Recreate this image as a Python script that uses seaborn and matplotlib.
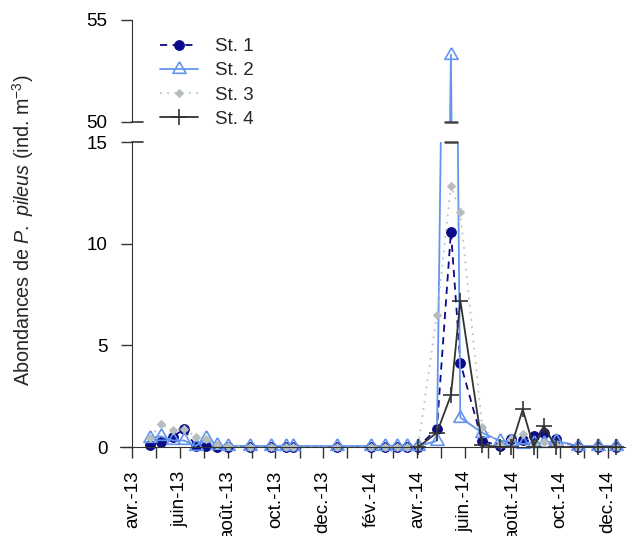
import numpy as np
import pandas as pd
import matplotlib
matplotlib.use("Agg")
import matplotlib.pyplot as plt
import matplotlib.dates as mdates
import seaborn as sns

# ---------------- data ----------------
dates = ["2013-04-24", "2013-05-07", "2013-05-23", "2013-06-06", "2013-06-21",
         "2013-07-04", "2013-07-18", "2013-08-01", "2013-08-30", "2013-09-25",
         "2013-10-15", "2013-10-24", "2013-12-19", "2014-01-31", "2014-02-19",
         "2014-03-06", "2014-03-19", "2014-04-02", "2014-04-26", "2014-05-14",
         "2014-05-26", "2014-06-23", "2014-07-16", "2014-07-30", "2014-08-14",
         "2014-08-28", "2014-09-10", "2014-09-25", "2014-10-24", "2014-11-19",
         "2014-12-11"]
st1 = [0.1, 0.25, 0.5, 0.9, 0.05, 0.05, 0, 0, 0, 0, 0, 0, 0, 0, 0, 0, 0, 0,
       0.9, 10.6, 4.15, 0.3, 0.05, 0.4, 0.33, 0.55, 0.68, 0.37, 0, 0, 0]
st2 = [0.43, 0.53, 0.32, 0.32, 0.05, 0.43, 0.1, 0.05, 0.05, 0.05, 0.05, 0.05,
       0.05, 0.05, 0.05, 0.05, 0.05, 0.05, 0.3, 53.3, 1.45, 0.7, 0.3, 0.3,
       0.15, 0.2, 0.2, 0.3, 0.05, 0.05, 0.05]
st3 = [0.45, 1.15, 0.83, 0.9, 0.5, 0.4, 0.1, 0.03, 0, 0, 0, 0, 0, 0, 0, 0, 0,
       0.05, 6.5, 12.85, 11.55, 1.0, 0.1, 0.4, 0.65, 0.15, 0.25, 0.1, 0, 0, 0]
st4 = [np.nan] * 17 + [0, 0.7, 2.55, 7.2, 0.08, 0, 0, 1.85, 0, 1.05, 0, 0, 0, 0]
stations = ["St. 1", "St. 2", "St. 3", "St. 4"]

tick_months = ["2013-04-01", "2013-06-01", "2013-08-01", "2013-10-01", "2013-12-01",
               "2014-02-01", "2014-04-01", "2014-06-01", "2014-08-01", "2014-10-01",
               "2014-12-01"]
tick_labels = ["avr.-13", "juin-13", "août.-13", "oct.-13", "dec.-13", "fév.-14",
               "avr.-14", "juin.-14", "août.-14", "oct.-14", "dec.-14"]

# ---------------- style ----------------
sns.set_style("ticks")
plt.rcParams["font.family"] = ["Liberation Sans", "DejaVu Sans"]
plt.rcParams["mathtext.fontset"] = "custom"
plt.rcParams["mathtext.rm"] = "Liberation Sans"
plt.rcParams["mathtext.it"] = "Liberation Sans:italic"
plt.rcParams["axes.edgecolor"] = "#333333"
plt.rcParams["xtick.color"] = "#333333"
plt.rcParams["ytick.color"] = "#333333"
plt.rcParams["xtick.labelcolor"] = "black"
plt.rcParams["ytick.labelcolor"] = "black"

FS = 13.5

tri = [(0, 1), (-0.866, -0.5), (0.866, -0.5), (0, 1)]
styles = {
    "St. 1": dict(color="#0B0B8A", marker="o", markersize=7, markerfacecolor="#0B0B8A",
                  markeredgecolor="#0B0B8A", linestyle=(0, (4, 3)), linewidth=1.3),
    "St. 2": dict(color="#6495ED", marker=tri, markersize=11, markerfacecolor="none",
                  markeredgecolor="#6495ED", markeredgewidth=1.2, linestyle="-", linewidth=1.3),
    "St. 3": dict(color="#BCC3C3", marker="D", markersize=4.5, markerfacecolor="#B5BDBD",
                  markeredgecolor="#B5BDBD", linestyle=(0, (1, 3)), linewidth=1.3),
    "St. 4": dict(color="#333333", marker="+", markersize=11, markerfacecolor="#333333",
                  markeredgecolor="#333333", markeredgewidth=1.2, linestyle="-", linewidth=1.3),
}

df = pd.DataFrame({"date": pd.to_datetime(dates), "St. 1": st1, "St. 2": st2,
                   "St. 3": st3, "St. 4": st4})

W, H = 632, 536
fig = plt.figure(figsize=(W / 100, H / 100), dpi=100)

x_left = pd.Timestamp("2013-03-16")
x_right = pd.Timestamp("2014-12-23")
ppu = 20.33  # pixels per y unit
lo_bottom_val = -0.6
y0_px = 447
lo_top_px = y0_px - 15 * ppu
lo_bot_px = y0_px - lo_bottom_val * ppu
ax_lo = fig.add_axes([120 / W, (H - lo_bot_px) / H, 505 / W, (lo_bot_px - lo_top_px) / H])
up_top_px = 20
up_bot_px = 122
ax_up = fig.add_axes([120 / W, (H - up_bot_px) / H, 505 / W, (up_bot_px - up_top_px) / H])

handles = {}
for ax in (ax_lo, ax_up):
    ax.patch.set_visible(False)
    for st in stations:
        sub = df[["date", st]].dropna()
        sns.lineplot(data=sub, x="date", y=st, ax=ax, legend=False, **styles[st])
        handles[st] = ax.get_lines()[-1]
    ax.set_xlim(x_left, x_right)
    ax.set_xlabel("")
    ax.set_ylabel("")
    for s in ("top", "right"):
        ax.spines[s].set_visible(False)
    ax.spines["left"].set_position(("data", mdates.date2num(pd.Timestamp("2013-04-01"))))
    ax.tick_params(axis="y", length=8, width=1.0, pad=10, labelsize=FS)

# lower axes
ax_lo.set_ylim(lo_bottom_val, 15)
ax_lo.spines["bottom"].set_position(("data", 0))
ax_lo.spines["left"].set_bounds(0, 15)
ax_lo.set_yticks([0, 5, 10, 15])
ax_lo.set_yticklabels(["0", "5", "10", "15"])
ax_lo.set_xticks(mdates.date2num(pd.to_datetime(tick_months)))
ax_lo.set_xticklabels(tick_labels, rotation=90, ha="center", va="top")
ax_lo.xaxis.set_minor_locator(mdates.MonthLocator(bymonth=[1, 3, 5, 7, 9, 11]))
ax_lo.tick_params(axis="x", which="both", length=8, width=1.0, pad=9, labelsize=FS)

# upper axes
ax_up.set_ylim(50, 55)
ax_up.spines["bottom"].set_visible(False)
ax_up.spines["left"].set_bounds(50, 55)
ax_up.set_yticks([50, 55])
ax_up.set_yticklabels(["50", "55"])
ax_up.set_xticks([])

# break marks on axis
a0 = pd.Timestamp("2013-04-01")
a1 = a0 + pd.Timedelta(days=13)
ax_lo.plot([a0, a1], [15, 15], color="#333333", lw=1.2, clip_on=False)
ax_up.plot([a0, a1], [50, 50], color="#333333", lw=1.2, clip_on=False)
# break marks on the St. 2 peak
pk = pd.Timestamp("2014-05-14")
b0, b1 = pk - pd.Timedelta(days=8), pk + pd.Timedelta(days=8)
ax_lo.plot([b0, b1], [15, 15], color="#444444", lw=1.8, clip_on=False)
ax_up.plot([b0, b1], [50, 50], color="#444444", lw=1.8, clip_on=False)

# y label
fig.text(23 / W, 1 - 230 / H, r"Abondances de $\mathit{P.\ pileus}$ (ind. m$^{-3}$)",
         rotation=90, ha="center", va="center", fontsize=14.2)

# legend (on the upper axes so it is drawn on top)
leg = ax_up.legend([handles[s] for s in stations], stations, loc="upper left",
                   bbox_to_anchor=(160 / W, 1 - 38 / H), bbox_transform=fig.transFigure,
                   frameon=False, fontsize=FS, handlelength=2.05, handletextpad=0.9,
                   labelspacing=0.38, borderpad=0, borderaxespad=0, numpoints=1)
leg.set_zorder(10)

fig.savefig("out.png", dpi=100)
